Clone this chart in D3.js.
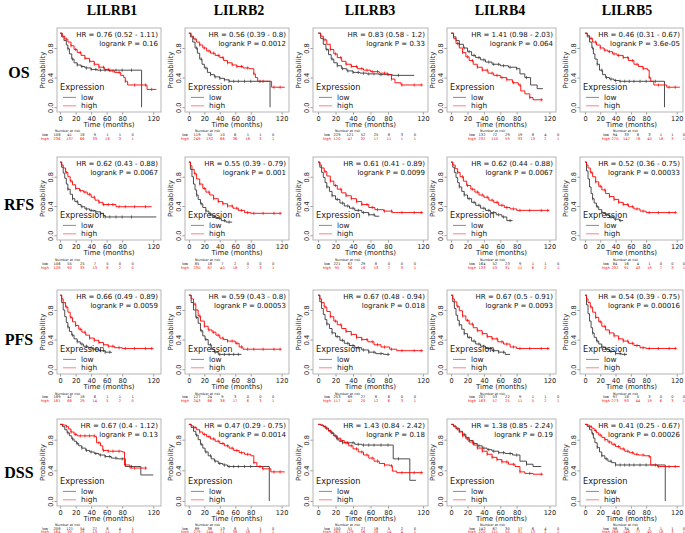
<!DOCTYPE html>
<html><head><meta charset="utf-8">
<script src="https://cdn.jsdelivr.net/npm/d3@7"></script>
<style>body{margin:0;background:#fff}svg{display:block}</style>
</head><body><svg id="c" width="685" height="533"></svg>
<script>
// ---------------- DATA ----------------
const genes = ["LILRB1","LILRB2","LILRB3","LILRB4","LILRB5"];
const endpoints = ["OS","RFS","PFS","DSS"];
const xTicks = [0,20,40,60,80,120];
const yTicks = [0,0.4,0.8];
const riskTimes = [0,20,40,60,80,100,120];

const hr_OS  = ["HR = 0.76 (0.52 - 1.11)","HR = 0.56 (0.39 - 0.8)","HR = 0.83 (0.58 - 1.2)","HR = 1.41 (0.98 - 2.03)","HR = 0.46 (0.31 - 0.67)"];
const p_OS   = ["logrank P = 0.16","logrank P = 0.0012","logrank P = 0.33","logrank P = 0.064","logrank P = 3.6e-05"];
const hr_RFS = ["HR = 0.62 (0.43 - 0.88)","HR = 0.55 (0.39 - 0.79)","HR = 0.61 (0.41 - 0.89)","HR = 0.62 (0.44 - 0.88)","HR = 0.52 (0.36 - 0.75)"];
const p_RFS  = ["logrank P = 0.0067","logrank P = 0.001","logrank P = 0.0099","logrank P = 0.0067","logrank P = 0.00033"];
const hr_PFS = ["HR = 0.66 (0.49 - 0.89)","HR = 0.59 (0.43 - 0.8)","HR = 0.67 (0.48 - 0.94)","HR = 0.67 (0.5 - 0.91)","HR = 0.54 (0.39 - 0.75)"];
const p_PFS  = ["logrank P = 0.0059","logrank P = 0.00053","logrank P = 0.018","logrank P = 0.0093","logrank P = 0.00016"];
const hr_DSS = ["HR = 0.67 (0.4 - 1.12)","HR = 0.47 (0.29 - 0.75)","HR = 1.43 (0.84 - 2.42)","HR = 1.38 (0.85 - 2.24)","HR = 0.41 (0.25 - 0.67)"];
const p_DSS  = ["logrank P = 0.13","logrank P = 0.0014","logrank P = 0.18","logrank P = 0.19","logrank P = 0.00026"];

// numbers at risk (times 0..120 step 20)
const risk_OS_low   = [[108,41,18,9,1,1,0],[119,50,10,6,1,1,0],[229,121,52,25,8,3,0],[132,72,29,19,8,4,0],[94,33,8,3,1,1,0]];
const risk_OS_high  = [[236,137,66,33,18,3,1],[249,132,66,36,18,3,1],[120,47,32,17,11,1,1],[232,110,59,33,13,2,1],[270,147,78,40,18,3,1]];
const risk_RFS_low  = [[106,55,25,7,5,0,0],[85,18,7,2,0,0,0],[221,67,29,8,0,0,0],[164,52,23,9,1,1,0],[84,16,4,1,0,0,0]];
const risk_RFS_high = [[128,90,33,13,8,2,0],[230,87,40,18,7,3,1],[95,36,18,13,7,3,1],[133,53,31,11,6,2,1],[232,91,43,19,7,3,1]];
const risk_PFS_low  = [[189,42,18,6,1,1,1],[127,24,9,3,0,0,0],[253,69,27,8,6,0,0],[207,53,22,9,1,1,0],[97,18,5,3,0,0,0]];
const risk_PFS_high = [[181,68,29,14,5,2,0],[243,86,38,17,6,3,1],[117,41,20,12,6,3,1],[163,57,25,11,5,2,1],[273,93,44,19,6,3,1]];
const risk_DSS_low  = [[208,121,54,27,8,4,1],[89,38,13,8,1,1,0],[100,51,27,18,5,2,0],[142,67,30,17,6,4,0],[98,34,6,2,1,1,0]];
const risk_DSS_high = [[164,59,29,13,11,2,0],[279,144,71,38,18,3,1],[263,129,56,28,14,4,1],[220,111,55,31,13,2,1],[268,146,77,40,18,3,1]];

// Kaplan-Meier step points [time, survival] (survival holds from that time on)
const OS_B1_low  = [[0,1],[2,0.95],[5,0.9],[8,0.84],[10,0.79],[12,0.72],[15,0.65],[18,0.6],[22,0.57],[27,0.55],[32,0.53],[40,0.51],[48,0.5],[105,0.5],[105,0]];
const OS_B1_high = [[0,1],[3,0.96],[6,0.92],[10,0.88],[14,0.83],[18,0.78],[22,0.74],[27,0.7],[32,0.66],[38,0.62],[44,0.58],[50,0.54],[57,0.51],[63,0.49],[70,0.47],[78,0.43],[82,0.4],[84,0.35],[87,0.3],[112,0.24],[124,0.24]];
const OS_B2_low  = [[0,1],[2,0.95],[5,0.88],[8,0.8],[11,0.73],[14,0.65],[17,0.58],[20,0.53],[24,0.47],[28,0.44],[33,0.41],[40,0.39],[46,0.37],[52,0.35],[105,0.35],[105,0]];
const OS_B2_high = [[0,1],[3,0.96],[6,0.92],[10,0.88],[14,0.84],[18,0.8],[23,0.76],[28,0.73],[34,0.7],[40,0.67],[45,0.63],[50,0.6],[56,0.57],[62,0.55],[70,0.53],[78,0.52],[84,0.45],[86,0.4],[89,0.35],[107,0.27],[124,0.27]];
const OS_B3_low  = [[0,1],[3,0.93],[6,0.85],[9,0.78],[12,0.71],[15,0.65],[18,0.6],[22,0.56],[27,0.52],[33,0.49],[40,0.47],[48,0.46],[56,0.45],[70,0.44],[85,0.43],[110,0.43]];
const OS_B3_high = [[0,1],[3,0.96],[6,0.91],[10,0.85],[14,0.78],[18,0.72],[22,0.67],[27,0.62],[32,0.58],[38,0.55],[45,0.52],[52,0.5],[60,0.48],[70,0.46],[80,0.44],[84,0.38],[88,0.33],[95,0.3],[120,0.3]];
const OS_B4_low  = [[0,1],[3,0.95],[6,0.9],[10,0.85],[15,0.8],[20,0.75],[25,0.7],[30,0.67],[36,0.64],[42,0.61],[50,0.58],[60,0.56],[70,0.54],[80,0.52],[84,0.45],[90,0.4],[97,0.3],[105,0.25],[112,0.25]];
const OS_B4_high = [[0,1],[3,0.93],[6,0.86],[10,0.8],[14,0.74],[18,0.68],[22,0.63],[27,0.58],[32,0.54],[38,0.5],[45,0.46],[52,0.43],[60,0.4],[68,0.37],[75,0.33],[82,0.3],[85,0.22],[90,0.18],[96,0.13],[100,0.1],[112,0.1]];
const OS_B5_low  = [[0,1],[3,0.95],[6,0.88],[9,0.8],[11,0.72],[13,0.65],[16,0.58],[19,0.5],[23,0.44],[27,0.4],[32,0.38],[38,0.36],[45,0.35],[104,0.35],[104,0]];
const OS_B5_high = [[0,1],[3,0.97],[6,0.93],[10,0.88],[15,0.84],[20,0.8],[25,0.77],[30,0.75],[36,0.72],[42,0.7],[50,0.67],[57,0.63],[64,0.58],[70,0.55],[76,0.52],[82,0.5],[84,0.4],[86,0.35],[90,0.3],[107,0.27],[124,0.27]];

const RFS_B1_low  = [[0,1],[2,0.93],[4,0.85],[6,0.78],[8,0.7],[10,0.63],[13,0.56],[16,0.5],[19,0.46],[23,0.42],[27,0.39],[32,0.36],[38,0.34],[45,0.32],[52,0.3],[56,0.27],[58,0.25],[124,0.25]];
const RFS_B1_high = [[0,1],[2,0.96],[4,0.92],[7,0.86],[10,0.8],[13,0.74],[16,0.69],[20,0.64],[25,0.61],[30,0.59],[35,0.56],[40,0.52],[45,0.48],[50,0.45],[55,0.42],[65,0.42],[72,0.39],[118,0.39]];
const RFS_B2_low  = [[0,1],[2,0.9],[4,0.8],[6,0.7],[8,0.62],[10,0.55],[12,0.49],[15,0.43],[18,0.38],[22,0.33],[26,0.29],[30,0.26],[35,0.23],[42,0.2],[48,0.18],[56,0.18]];
const RFS_B2_high = [[0,1],[2,0.95],[4,0.9],[7,0.84],[10,0.77],[14,0.7],[18,0.64],[22,0.59],[27,0.55],[32,0.5],[38,0.46],[44,0.43],[50,0.4],[57,0.37],[64,0.34],[72,0.31],[80,0.3],[120,0.3]];
const RFS_B3_low  = [[0,1],[2,0.93],[4,0.86],[6,0.79],[8,0.72],[10,0.66],[13,0.6],[16,0.54],[20,0.49],[25,0.44],[30,0.4],[36,0.37],[42,0.34],[50,0.31],[58,0.28],[65,0.26],[70,0.26]];
const RFS_B3_high = [[0,1],[2,0.96],[4,0.92],[7,0.87],[10,0.81],[14,0.74],[18,0.68],[22,0.63],[27,0.58],[32,0.54],[38,0.5],[44,0.46],[50,0.42],[58,0.38],[65,0.35],[75,0.33],[85,0.31],[120,0.31]];
const RFS_B4_low  = [[0,1],[2,0.93],[4,0.86],[6,0.79],[8,0.72],[10,0.66],[13,0.6],[16,0.55],[20,0.5],[25,0.45],[30,0.41],[36,0.37],[42,0.34],[48,0.31],[55,0.28],[62,0.25],[68,0.2],[75,0.2]];
const RFS_B4_high = [[0,1],[2,0.96],[5,0.91],[8,0.86],[11,0.8],[15,0.74],[19,0.68],[24,0.63],[29,0.59],[34,0.55],[40,0.52],[46,0.48],[52,0.45],[58,0.41],[65,0.38],[72,0.36],[80,0.34],[120,0.34]];
const RFS_B5_low  = [[0,1],[2,0.88],[4,0.77],[6,0.66],[8,0.57],[10,0.5],[12,0.44],[15,0.39],[18,0.35],[22,0.31],[27,0.28],[32,0.25],[38,0.22],[45,0.2],[50,0.2]];
const RFS_B5_high = [[0,1],[2,0.96],[4,0.92],[7,0.86],[10,0.8],[14,0.73],[18,0.67],[22,0.62],[27,0.57],[32,0.53],[38,0.49],[44,0.45],[50,0.42],[57,0.39],[64,0.36],[72,0.33],[80,0.31],[120,0.31]];

const PFS_B1_low  = [[0,1],[2,0.9],[4,0.8],[6,0.71],[8,0.63],[10,0.57],[12,0.51],[15,0.46],[18,0.41],[22,0.37],[26,0.34],[30,0.31],[36,0.29],[42,0.27],[50,0.25],[58,0.23],[66,0.22]];
const PFS_B1_high = [[0,1],[2,0.95],[4,0.9],[7,0.84],[10,0.77],[13,0.7],[16,0.64],[20,0.59],[24,0.54],[28,0.5],[33,0.46],[38,0.42],[44,0.39],[50,0.36],[56,0.33],[62,0.31],[70,0.29],[80,0.28],[120,0.28]];
const PFS_B2_low  = [[0,1],[3,0.9],[6,0.8],[9,0.7],[12,0.62],[15,0.52],[18,0.45],[21,0.4],[25,0.33],[29,0.27],[33,0.23],[38,0.2],[68,0.2]];
const PFS_B2_high = [[0,1],[3,0.95],[6,0.88],[9,0.8],[12,0.72],[15,0.65],[20,0.58],[25,0.53],[30,0.5],[35,0.46],[40,0.42],[45,0.4],[50,0.38],[60,0.35],[65,0.3],[70,0.27],[120,0.27]];
const PFS_B3_low  = [[0,1],[2,0.91],[4,0.82],[6,0.74],[8,0.67],[10,0.61],[13,0.55],[16,0.49],[20,0.44],[25,0.39],[30,0.35],[36,0.32],[42,0.29],[50,0.26],[58,0.23],[66,0.21],[75,0.2],[82,0.2]];
const PFS_B3_high = [[0,1],[2,0.95],[4,0.9],[7,0.84],[10,0.78],[14,0.71],[18,0.65],[22,0.6],[27,0.55],[32,0.51],[38,0.47],[44,0.43],[50,0.4],[57,0.37],[64,0.33],[72,0.3],[82,0.27],[90,0.25],[120,0.25]];
const PFS_B4_low  = [[0,1],[2,0.91],[4,0.82],[6,0.73],[8,0.66],[10,0.6],[13,0.54],[16,0.48],[20,0.43],[25,0.38],[30,0.34],[36,0.31],[42,0.28],[50,0.25],[58,0.23],[66,0.2],[72,0.2]];
const PFS_B4_high = [[0,1],[2,0.95],[4,0.91],[7,0.85],[10,0.79],[14,0.72],[18,0.66],[22,0.61],[27,0.56],[32,0.52],[38,0.48],[44,0.44],[50,0.41],[57,0.37],[64,0.34],[72,0.3],[80,0.28],[120,0.28]];
const PFS_B5_low  = [[0,1],[2,0.87],[4,0.75],[6,0.65],[8,0.56],[10,0.49],[12,0.43],[15,0.38],[18,0.34],[22,0.3],[27,0.27],[32,0.24],[40,0.21],[48,0.2],[55,0.2]];
const PFS_B5_high = [[0,1],[2,0.95],[4,0.9],[7,0.84],[10,0.77],[14,0.7],[18,0.64],[22,0.58],[27,0.53],[32,0.49],[38,0.45],[44,0.41],[50,0.38],[57,0.35],[64,0.32],[72,0.29],[80,0.28],[120,0.28]];

const DSS_B1_low  = [[0,1],[3,0.97],[6,0.93],[9,0.89],[12,0.85],[15,0.81],[18,0.78],[21,0.75],[24,0.72],[28,0.69],[33,0.66],[38,0.64],[44,0.62],[50,0.6],[58,0.58],[66,0.56],[74,0.55],[84,0.45],[104,0.34],[120,0.34]];
const DSS_B1_high = [[0,1],[4,0.99],[8,0.97],[11,0.94],[14,0.9],[18,0.87],[22,0.85],[45,0.84],[47,0.76],[52,0.72],[55,0.66],[62,0.65],[80,0.64],[83,0.47],[90,0.43],[112,0.43]];
const DSS_B2_low  = [[0,1],[3,0.96],[6,0.91],[9,0.86],[12,0.8],[15,0.74],[18,0.69],[21,0.64],[25,0.59],[29,0.55],[33,0.52],[38,0.49],[44,0.47],[50,0.45],[104,0.45],[104,0]];
const DSS_B2_high = [[0,1],[3,0.98],[6,0.96],[10,0.93],[14,0.9],[18,0.87],[23,0.84],[28,0.81],[34,0.78],[40,0.75],[46,0.72],[52,0.69],[58,0.66],[65,0.63],[72,0.61],[80,0.59],[84,0.5],[88,0.45],[95,0.42],[106,0.38],[124,0.38]];
const DSS_B3_low  = [[0,1],[3,0.99],[6,0.97],[9,0.95],[12,0.92],[15,0.89],[18,0.85],[21,0.81],[24,0.78],[28,0.76],[42,0.74],[50,0.73],[85,0.73],[86,0.55],[104,0.55],[105,0.27],[112,0.27]];
const DSS_B3_high = [[0,1],[3,0.99],[6,0.97],[9,0.94],[12,0.91],[15,0.88],[18,0.85],[22,0.82],[26,0.79],[30,0.76],[35,0.72],[40,0.68],[46,0.64],[52,0.6],[58,0.56],[64,0.52],[70,0.49],[76,0.47],[82,0.46],[85,0.39],[90,0.37],[120,0.37]];
const DSS_B4_low  = [[0,1],[3,0.98],[6,0.95],[10,0.91],[14,0.87],[18,0.83],[22,0.79],[27,0.75],[32,0.72],[38,0.69],[44,0.67],[50,0.65],[58,0.63],[66,0.62],[75,0.6],[84,0.52],[92,0.48],[100,0.45],[110,0.45]];
const DSS_B4_high = [[0,1],[3,0.97],[6,0.94],[10,0.9],[14,0.85],[18,0.81],[22,0.77],[27,0.73],[32,0.69],[38,0.65],[44,0.61],[50,0.57],[56,0.54],[62,0.51],[70,0.48],[78,0.45],[84,0.38],[90,0.36],[100,0.35],[112,0.35]];
const DSS_B5_low  = [[0,1],[3,0.97],[6,0.93],[9,0.88],[11,0.82],[13,0.76],[16,0.7],[19,0.64],[22,0.59],[26,0.55],[30,0.52],[35,0.5],[40,0.47],[105,0.47],[105,0]];
const DSS_B5_high = [[0,1],[3,0.99],[6,0.97],[9,0.95],[12,0.92],[15,0.89],[18,0.86],[22,0.83],[26,0.8],[30,0.77],[35,0.74],[40,0.71],[46,0.68],[52,0.65],[58,0.63],[64,0.61],[70,0.6],[78,0.59],[84,0.58],[86,0.47],[95,0.45],[124,0.45]];

// censoring times (marks drawn on the curves)
const cens_low  = [10,16,22,28,34,40,46,52,58,64,72,80,92];
const cens_high = [8,14,20,26,32,38,44,50,56,62,68,76,84,96,110,118];

// ---------------- LAYOUT ----------------
const colL = [57,185,313,447,580];
const colW = [104,104,115,109,103];
const xDom = [[-4,130],[-5,129.5],[-5.8,125.8],[-5,128],[-6.5,128.2]];
const rowT = [28,157,290,419];
const rowH = [84,83,84,87];
const yDom = [-0.065,1.07];
const titleX = [112,239,370,500,627];
const rowLabelY = [78,210,345,478];
const riskLabX = [45,185,327,472,606];
const riskX0 = [57,197,337,482,615];
const riskDX = [12.6,12.7,13,12.7,11.5];
const riskY = [[131,134.5,138.3],[260,263.8,268],[393.3,396.8,400.7],[524.8,528.2,532]];

const LOWC = "#3a3a3a", HIGHC = "#ff0000";
const svg = d3.select("#c");
const SANS = "DejaVu Sans";

const curveSets = {
  OS:[[OS_B1_low,OS_B1_high],[OS_B2_low,OS_B2_high],[OS_B3_low,OS_B3_high],[OS_B4_low,OS_B4_high],[OS_B5_low,OS_B5_high]],
  RFS:[[RFS_B1_low,RFS_B1_high],[RFS_B2_low,RFS_B2_high],[RFS_B3_low,RFS_B3_high],[RFS_B4_low,RFS_B4_high],[RFS_B5_low,RFS_B5_high]],
  PFS:[[PFS_B1_low,PFS_B1_high],[PFS_B2_low,PFS_B2_high],[PFS_B3_low,PFS_B3_high],[PFS_B4_low,PFS_B4_high],[PFS_B5_low,PFS_B5_high]],
  DSS:[[DSS_B1_low,DSS_B1_high],[DSS_B2_low,DSS_B2_high],[DSS_B3_low,DSS_B3_high],[DSS_B4_low,DSS_B4_high],[DSS_B5_low,DSS_B5_high]]
};
const hrSets = {OS:[hr_OS,p_OS],RFS:[hr_RFS,p_RFS],PFS:[hr_PFS,p_PFS],DSS:[hr_DSS,p_DSS]};
const riskSets = {OS:[risk_OS_low,risk_OS_high],RFS:[risk_RFS_low,risk_RFS_high],PFS:[risk_PFS_low,risk_PFS_high],DSS:[risk_DSS_low,risk_DSS_high]};

// titles
genes.forEach((g,c)=>{
  svg.append("text").attr("x",titleX[c]).attr("y",15).attr("text-anchor","middle")
    .attr("font-family","Liberation Serif").attr("font-weight","bold").attr("font-size",14).text(g);
});
endpoints.forEach((e,r)=>{
  svg.append("text").attr("x",19).attr("y",rowLabelY[r]).attr("text-anchor","middle")
    .attr("font-family","Liberation Serif").attr("font-weight","bold").attr("font-size",16).text(e);
});

function survAt(pts,t){let s=pts[0][1];for(const p of pts){if(p[0]<=t)s=p[1];else break;}return s;}

endpoints.forEach((ep,r)=>{
  genes.forEach((g,c)=>{
    const L=colL[c], T=rowT[r], W=colW[c], H=rowH[r];
    const x=d3.scaleLinear().domain(xDom[c]).range([L,L+W]);
    const y=d3.scaleLinear().domain(yDom).range([T+H,T]);
    const gp=svg.append("g");
    // axes
    const xa=gp.append("g").attr("transform",`translate(0,${T+H})`)
      .call(d3.axisBottom(x).tickValues(xTicks).tickSize(2.5).tickPadding(1.5).tickFormat(d3.format("d")));
    xa.selectAll("text").attr("font-family",SANS).attr("font-size",6.6).attr("fill","#222");
    const ya=gp.append("g").attr("transform",`translate(${L},0)`)
      .call(d3.axisLeft(y).tickValues(yTicks).tickSize(2.5).tickPadding(1.5).tickFormat(d3.format(".1f")));
    ya.selectAll("text").attr("font-family",SANS).attr("font-size",6.6).attr("fill","#222")
      .attr("text-anchor","middle").attr("x",0).attr("y",0).attr("dy",null)
      .attr("transform","translate(-4.2,0) rotate(-90)");
    [xa,ya].forEach(a=>{a.select(".domain").remove();a.selectAll("line").attr("stroke","#999");});
    gp.append("rect").attr("x",L).attr("y",T).attr("width",W).attr("height",H)
      .attr("fill","none").attr("stroke","#b5b5b5").attr("stroke-width",1);
    // axis labels
    gp.append("text").attr("x",L+W/2).attr("y",T+H+15.4).attr("text-anchor","middle")
      .attr("font-family",SANS).attr("font-size",7).attr("fill","#222").text("Time (months)");
    gp.append("text").attr("transform",`translate(${L-12.5},${T+H/2}) rotate(-90)`).attr("text-anchor","middle")
      .attr("font-family",SANS).attr("font-size",7).attr("fill","#222").text("Probability");
    // curves
    const [low,high]=curveSets[ep][c];
    const line=d3.line().x(d=>x(d[0])).y(d=>y(d[1])).curve(d3.curveStepAfter);
    [[low,LOWC,cens_low],[high,HIGHC,cens_high]].forEach(([pts,col,cens])=>{
      gp.append("path").datum(pts).attr("d",line).attr("fill","none").attr("stroke",col).attr("stroke-width",0.9);
      const tEnd=pts[pts.length-1][0];
      gp.selectAll(null).data(cens.filter(t=>t<tEnd && survAt(pts,t)>0)).enter().append("line")
        .attr("x1",t=>x(t)).attr("x2",t=>x(t))
        .attr("y1",t=>y(survAt(pts,t))-1.6).attr("y2",t=>y(survAt(pts,t))+1.6)
        .attr("stroke",col).attr("stroke-width",0.7);
    });
    // HR text
    const [hrA,pA]=hrSets[ep];
    gp.append("text").attr("x",L+W-3).attr("y",T+9).attr("text-anchor","end")
      .attr("font-family",SANS).attr("font-size",7).attr("fill","#111").text(hrA[c]);
    gp.append("text").attr("x",L+W-3).attr("y",T+17.5).attr("text-anchor","end")
      .attr("font-family",SANS).attr("font-size",7).attr("fill","#111").text(pA[c]);
    // legend
    gp.append("text").attr("x",L+3).attr("y",T+H-22.5).attr("font-family",SANS).attr("font-size",8.2).attr("fill","#222").text("Expression");
    [["low","#8a8a8a",T+H-14.6],["high","#ff8080",T+H-6.2]].forEach(([lab,col,yy])=>{
      gp.append("line").attr("x1",L+6).attr("x2",L+19).attr("y1",yy).attr("y2",yy).attr("stroke",col).attr("stroke-width",1);
      gp.append("text").attr("x",L+24).attr("y",yy+2.6).attr("font-family",SANS).attr("font-size",7.4).attr("fill","#222").text(lab);
    });
    // risk table
    const [rl,rh]=riskSets[ep];
    const [yN,yL,yH]=riskY[r];
    gp.append("text").attr("x",riskX0[c]-2).attr("y",yN+1.2).attr("font-family",SANS).attr("font-size",3.4).attr("fill","#222").text("Number at risk");
    [[rl[c],"low","#222",yL],[rh[c],"high","#ff0000",yH]].forEach(([vals,lab,col,yy])=>{
      gp.append("text").attr("x",riskLabX[c]).attr("y",yy+1.3).attr("text-anchor","middle")
        .attr("font-family",SANS).attr("font-size",3.6).attr("fill",col).text(lab);
      gp.selectAll(null).data(vals).enter().append("text")
        .attr("x",(v,i)=>riskX0[c]+i*riskDX[c]).attr("y",yy+1.3).attr("text-anchor","middle")
        .attr("font-family",SANS).attr("font-size",3.6).attr("fill",col).text(v=>v);
    });
  });
});
</script></body></html>
